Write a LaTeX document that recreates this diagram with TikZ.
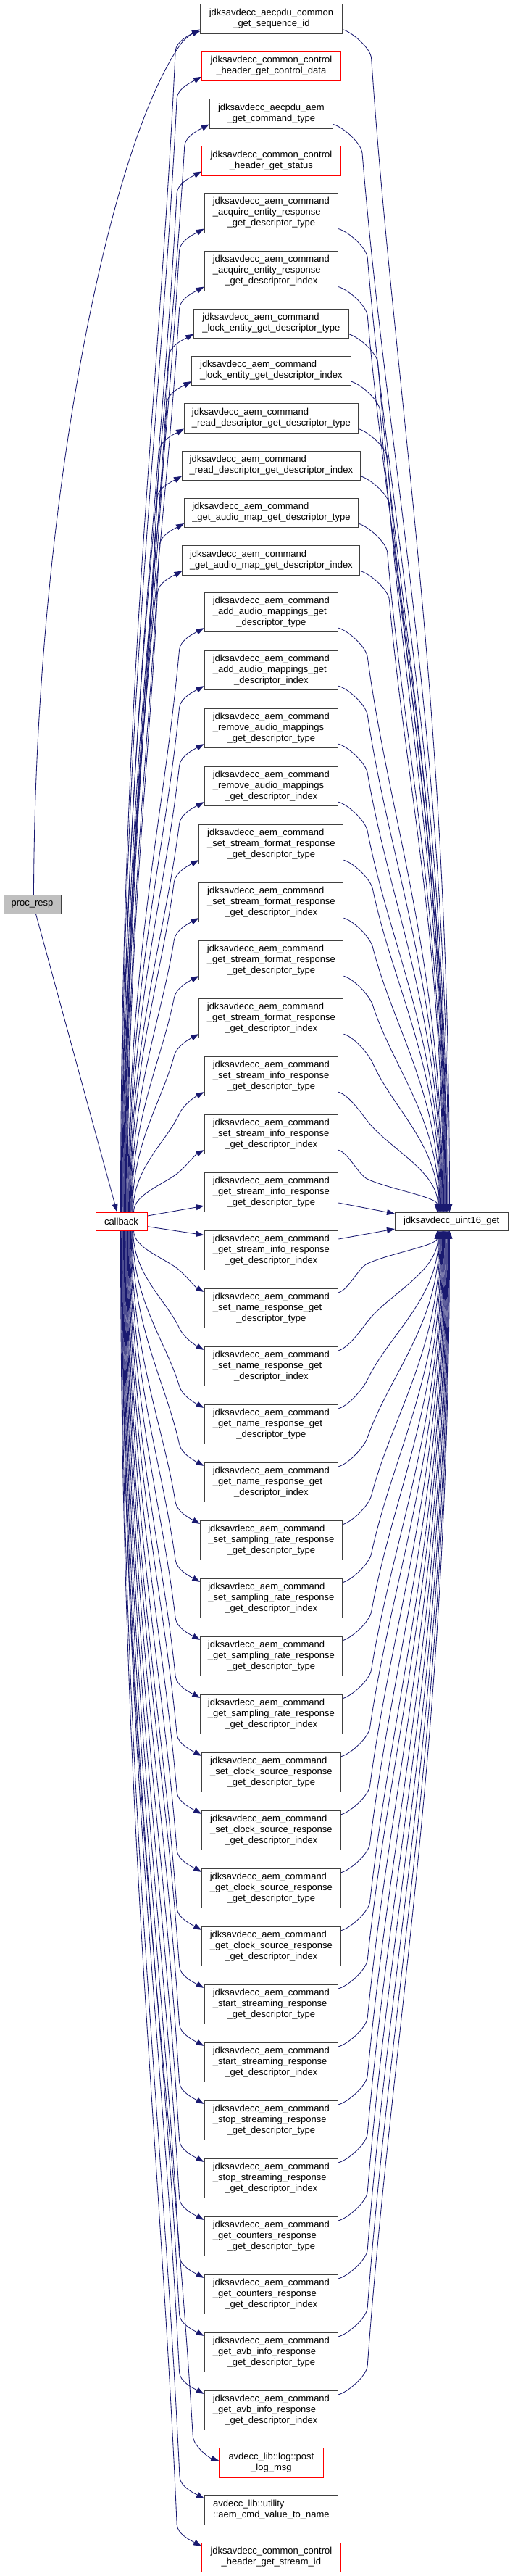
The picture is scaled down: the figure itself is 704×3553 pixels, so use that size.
\documentclass[tikz,border=0pt]{standalone}
\usepackage{fontspec}
\setmainfont{Liberation Sans}
\usetikzlibrary{calc,arrows.meta,backgrounds}
\definecolor{edgeblue}{HTML}{191970}
\definecolor{boxgray}{HTML}{404040}
\definecolor{procfill}{HTML}{BFBFBF}
\newcommand\twol[2]{\begin{tabular}{@{}l@{}}#1\\\multicolumn{1}{@{}c@{}}{#2}\end{tabular}}
\newcommand\threel[3]{\begin{tabular}{@{}l@{}}#1\\#2\\\multicolumn{1}{@{}c@{}}{#3}\end{tabular}}
\newcommand\aemc{jdksavdecc\_aem\_command}
\newcommand\dty{\_get\_descriptor\_type}
\newcommand\dix{\_get\_descriptor\_index}
\newcommand\mn[5]{\node[#1,minimum width=#3pt] (#2) at (374.4,#4) {#5};}
% left edge: #1 start, #2 end, #3 bend offset from end, #4 last control offset from end
\newcommand\ledge[4]{%
  \coordinate (B) at ($(#2)+(#3)$);
  \draw[cedge] (#1) .. controls ($(#1)!0.45!(#1|-B)$) and ($(B)!0.3!(#1)$) .. (B)
    .. controls ($(B)!-14pt!(#1)$) and ($(#2)+(#4)$) .. (#2);}
% right edge: #1 start, #2 end, #3 bend offset from start, #4 first control offset from start
\newcommand\redge[4]{%
  \coordinate (B) at ($(#1)+(#3)$);
  \draw[cedge] (#1) .. controls ($(#1)+(#4)$) and ($(B)!-14pt!(#2)$) .. (B)
    .. controls ($(B)!0.3!(#2)$) and ($(#2)!0.45!(#2|-B)$) .. (#2);}
\begin{document}
\begin{tikzpicture}[x=1pt,y=-1pt,
  box/.style={draw=boxgray, line width=1pt, fill=white, inner sep=0pt, text=black, font=\fontsize{13}{15}\selectfont},
  redbox/.style={box, draw=red},
  two/.style={minimum height=40.3pt},
  three/.style={minimum height=54.4pt},
  cedge/.style={draw=edgeblue, line width=0.85pt, -{Triangle[length=11pt,width=8pt]}, fill=none},
]
\useasboundingbox (0,0) rectangle (704,3553);

\node[box,fill=procfill,minimum width=79pt,minimum height=25.7pt] (pr) at (44.5,1247.2) {proc\_resp};
\node[redbox,minimum width=71pt,minimum height=25pt] (cb) at (167.5,1684.5) {callback};
\node[box,minimum width=155.5pt,minimum height=25pt] (u16) at (623.25,1684.5) {jdksavdecc\_uint16\_get};

\mn{box,two}{n1}{195.5}{25.85}{\twol{jdksavdecc\_aecpdu\_common}{\_get\_sequence\_id}}
\mn{redbox,two}{n2}{191.5}{91.15}{\twol{jdksavdecc\_common\_control}{\_header\_get\_control\_data}}
\mn{box,two}{n3}{170.3}{156.85}{\twol{jdksavdecc\_aecpdu\_aem}{\_get\_command\_type}}
\mn{redbox,two}{n4}{191.5}{221.85}{\twol{jdksavdecc\_common\_control}{\_header\_get\_status}}
\mn{box,three}{n5}{184.7}{293.9}{\threel{\aemc}{\_acquire\_entity\_response}{\dty}}
\mn{box,three}{n6}{184.7}{373.9}{\threel{\aemc}{\_acquire\_entity\_response}{\dix}}
\mn{box,two}{n7}{213.4}{446.15}{\twol{\aemc}{\_lock\_entity\_get\_descriptor\_type}}
\mn{box,two}{n8}{219.3}{511.45}{\twol{\aemc}{\_lock\_entity\_get\_descriptor\_index}}
\mn{box,two}{n9}{239.6}{576.85}{\twol{\aemc}{\_read\_descriptor\_get\_descriptor\_type}}
\mn{box,two}{n10}{245.9}{642.15}{\twol{\aemc}{\_read\_descriptor\_get\_descriptor\_index}}
\mn{box,two}{n11}{239.6}{707.45}{\twol{\aemc}{\_get\_audio\_map\_get\_descriptor\_type}}
\mn{box,two}{n12}{245}{772.85}{\twol{\aemc}{\_get\_audio\_map\_get\_descriptor\_index}}
\mn{box,three}{n13}{184.7}{844.5}{\threel{\aemc}{\_add\_audio\_mappings\_get}{\_descriptor\_type}}
\mn{box,three}{n14}{184.7}{924.5}{\threel{\aemc}{\_add\_audio\_mappings\_get}{\_descriptor\_index}}
\mn{box,three}{n15}{184.7}{1004.5}{\threel{\aemc}{\_remove\_audio\_mappings}{\dty}}
\mn{box,three}{n16}{184.7}{1084.5}{\threel{\aemc}{\_remove\_audio\_mappings}{\dix}}
\mn{box,three}{n17}{199.1}{1164.5}{\threel{\aemc}{\_set\_stream\_format\_response}{\dty}}
\mn{box,three}{n18}{199.1}{1244.5}{\threel{\aemc}{\_set\_stream\_format\_response}{\dix}}
\mn{box,three}{n19}{199.1}{1324.5}{\threel{\aemc}{\_get\_stream\_format\_response}{\dty}}
\mn{box,three}{n20}{199.1}{1404.5}{\threel{\aemc}{\_get\_stream\_format\_response}{\dix}}
\mn{box,three}{n21}{184.7}{1484.5}{\threel{\aemc}{\_set\_stream\_info\_response}{\dty}}
\mn{box,three}{n22}{184.7}{1564.5}{\threel{\aemc}{\_set\_stream\_info\_response}{\dix}}
\mn{box,three}{n23}{184.7}{1644.5}{\threel{\aemc}{\_get\_stream\_info\_response}{\dty}}
\mn{box,three}{n24}{184.7}{1724.5}{\threel{\aemc}{\_get\_stream\_info\_response}{\dix}}
\mn{box,three}{n25}{184.7}{1804.5}{\threel{\aemc}{\_set\_name\_response\_get}{\_descriptor\_type}}
\mn{box,three}{n26}{184.7}{1884.5}{\threel{\aemc}{\_set\_name\_response\_get}{\_descriptor\_index}}
\mn{box,three}{n27}{184.7}{1964.5}{\threel{\aemc}{\_get\_name\_response\_get}{\_descriptor\_type}}
\mn{box,three}{n28}{184.7}{2044.5}{\threel{\aemc}{\_get\_name\_response\_get}{\_descriptor\_index}}
\mn{box,three}{n29}{195.5}{2124.5}{\threel{\aemc}{\_set\_sampling\_rate\_response}{\dty}}
\mn{box,three}{n30}{195.5}{2204.5}{\threel{\aemc}{\_set\_sampling\_rate\_response}{\dix}}
\mn{box,three}{n31}{195.5}{2284.5}{\threel{\aemc}{\_get\_sampling\_rate\_response}{\dty}}
\mn{box,three}{n32}{195.5}{2364.5}{\threel{\aemc}{\_get\_sampling\_rate\_response}{\dix}}
\mn{box,three}{n33}{191.5}{2444.5}{\threel{\aemc}{\_set\_clock\_source\_response}{\dty}}
\mn{box,three}{n34}{191.5}{2524.5}{\threel{\aemc}{\_set\_clock\_source\_response}{\dix}}
\mn{box,three}{n35}{191.5}{2604.5}{\threel{\aemc}{\_get\_clock\_source\_response}{\dty}}
\mn{box,three}{n36}{191.5}{2684.5}{\threel{\aemc}{\_get\_clock\_source\_response}{\dix}}
\mn{box,three}{n37}{184.7}{2764.5}{\threel{\aemc}{\_start\_streaming\_response}{\dty}}
\mn{box,three}{n38}{184.7}{2844.5}{\threel{\aemc}{\_start\_streaming\_response}{\dix}}
\mn{box,three}{n39}{184.7}{2924.5}{\threel{\aemc}{\_stop\_streaming\_response}{\dty}}
\mn{box,three}{n40}{184.7}{3004.5}{\threel{\aemc}{\_stop\_streaming\_response}{\dix}}
\mn{box,three}{n41}{184.7}{3084.5}{\threel{\aemc}{\_get\_counters\_response}{\dty}}
\mn{box,three}{n42}{184.7}{3164.5}{\threel{\aemc}{\_get\_counters\_response}{\dix}}
\mn{box,three}{n43}{184.7}{3244.5}{\threel{\aemc}{\_get\_avb\_info\_response}{\dty}}
\mn{box,three}{n44}{184.7}{3324.5}{\threel{\aemc}{\_get\_avb\_info\_response}{\dix}}
\mn{redbox,two}{n45}{143.3}{3396.85}{\twol{avdecc\_lib::log::post}{\_log\_msg}}
\mn{box,two}{n46}{183.8}{3461.85}{\twol{avdecc\_lib::utility}{::aem\_cmd\_value\_to\_name}}
\mn{redbox,two}{n47}{191.5}{3527.45}{\twol{jdksavdecc\_common\_control}{\_header\_get\_stream\_id}}

\begin{scope}[on background layer]
% proc_resp
\draw[cedge] ($(pr.north)+(2,0)$) .. controls (48,700) and (150,200) .. (250,60)
  .. controls (256,52) and (266,46) .. ($(n1.south west)+(0,-3.5)$);
\draw[cedge] ($(pr.south)+(5,0)$) -- ($(cb.north west)+(30,0)$);
% callback -> nodes above
\foreach \k in {1,...,22}{
  \pgfmathsetmacro\dx{35+(\k-1)*0.857}
  \coordinate (S) at ($(cb.north west)+(\dx,0)$);
  \coordinate (E) at ($(n\k.south west)+(0,-6)$);
  \ledge{S}{E}{-34,30}{-13,7}
}
% callback -> nodes below
\foreach \k in {25,...,44,46,47}{
  \pgfmathsetmacro\dx{35+(47-\k)*0.82}
  \coordinate (S) at ($(cb.south west)+(\dx,0)$);
  \coordinate (E) at ($(n\k.north west)+(0,5)$);
  \ledge{S}{E}{-34,-30}{-13,-7}
}
\coordinate (S) at ($(cb.south west)+(36.64,0)$);
\coordinate (E) at ($(n45.west)+(0,-3)$);
\ledge{S}{E}{-36,-34}{-14,-4}
% side edges
\draw[cedge] ($(cb.east)+(0,-7.5)$) -- ($(n23.south west)+(0,-9)$);
\draw[cedge] ($(cb.east)+(0,7.2)$) -- ($(n24.north west)+(0,6.7)$);
\draw[cedge] ($(n23.east)+(0,14.5)$) -- ($(u16.north west)+(0,2.5)$);
\draw[cedge] ($(n24.east)+(0,-15.5)$) -- ($(u16.south west)+(0,-2.5)$);
% nodes above -> uint16
\foreach \k in {1,3,5,6,7,8,9,10,11,12,13,14,15,16,17,18,19,20,21,22}{
  \pgfmathsetmacro\ux{58.5+17*(22-\k)/21}
  \coordinate (P) at ($(n\k.south east)+(0,-6)$);
  \coordinate (E) at ($(u16.north west)+(\ux,0)$);
  \redge{P}{E}{40,40}{14,4}
}
% nodes below -> uint16
\foreach \k in {25,...,44}{
  \pgfmathsetmacro\ux{58.5+17*(\k-25)/19}
  \coordinate (P) at ($(n\k.north east)+(0,6)$);
  \coordinate (E) at ($(u16.south west)+(\ux,0)$);
  \redge{P}{E}{40,-40}{14,-4}
}
\end{scope}
\end{tikzpicture}
\end{document}
